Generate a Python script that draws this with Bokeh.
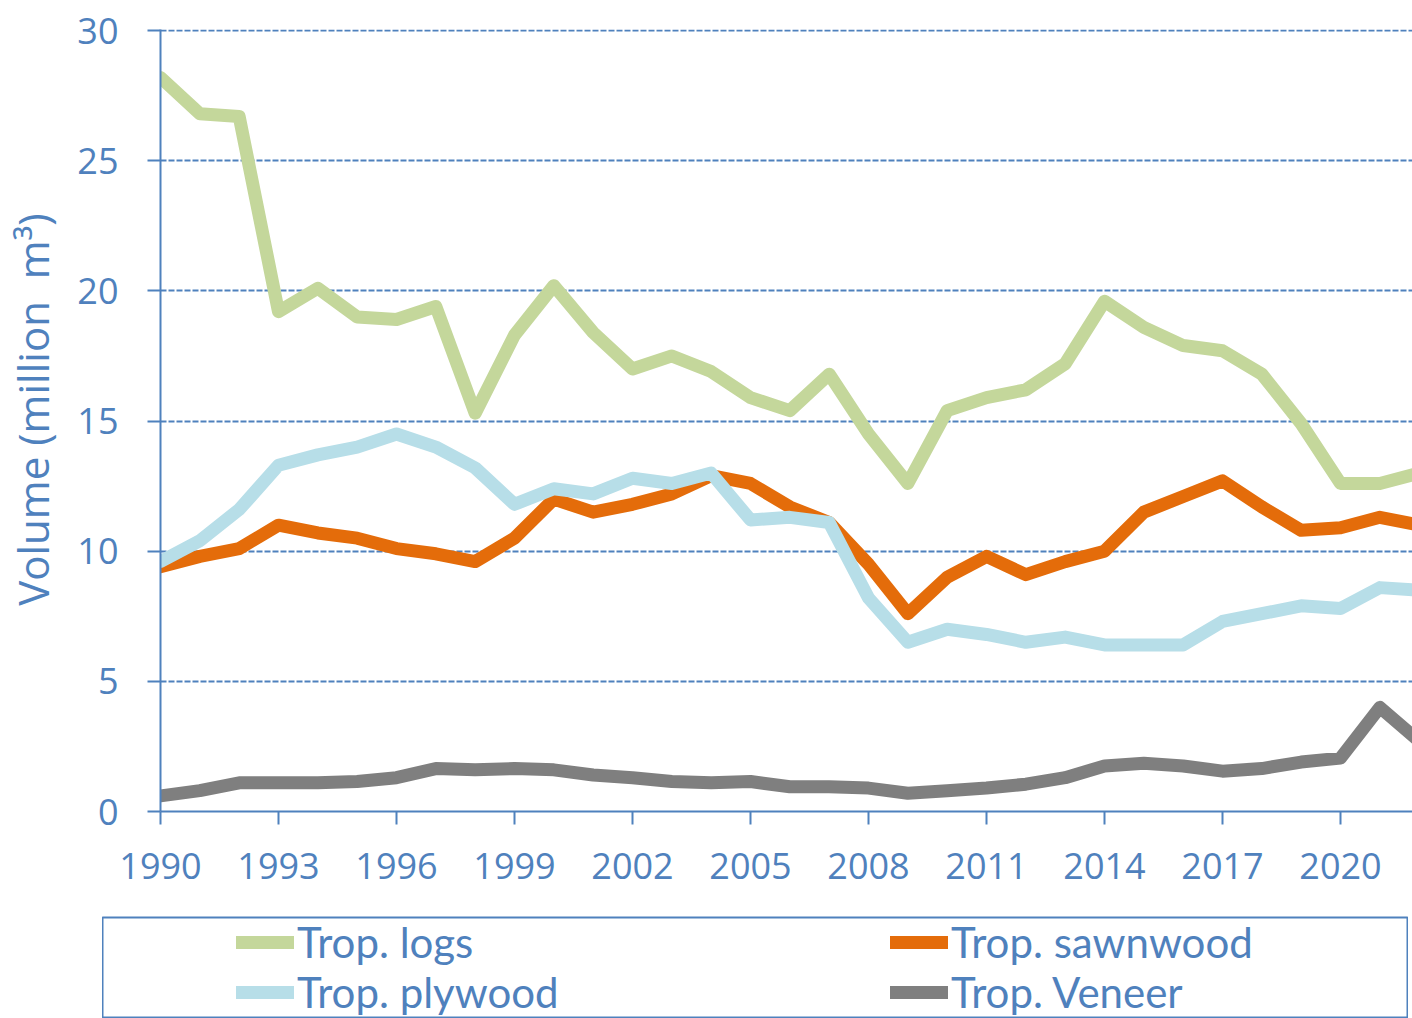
from bokeh.plotting import figure
from bokeh.models import Range1d, FixedTicker, Legend, LegendItem
from bokeh.embed import file_html
from bokeh.resources import INLINE

years = list(range(1990, 2023))
logs = [28.2, 26.8, 26.7, 19.2, 20.1, 19.0, 18.9, 19.4, 15.3, 18.3, 20.2, 18.4, 17.0,
        17.5, 16.9, 15.9, 15.4, 16.8, 14.5, 12.6, 15.4, 15.9, 16.2, 17.2, 19.6, 18.6,
        17.9, 17.7, 16.8, 14.9, 12.6, 12.6, 13.0]
sawnwood = [9.4, 9.8, 10.1, 11.0, 10.7, 10.5, 10.1, 9.9, 9.6, 10.5, 12.0, 11.5, 11.8,
            12.2, 12.9, 12.6, 11.7, 11.1, 9.5, 7.6, 9.0, 9.8, 9.1, 9.6, 10.0, 11.5,
            12.1, 12.7, 11.7, 10.8, 10.9, 11.3, 11.0]
plywood = [9.6, 10.4, 11.6, 13.3, 13.7, 14.0, 14.5, 14.0, 13.2, 11.8, 12.4, 12.2, 12.8,
           12.6, 13.0, 11.2, 11.3, 11.1, 8.2, 6.5, 7.0, 6.8, 6.5, 6.7, 6.4, 6.4,
           6.4, 7.3, 7.6, 7.9, 7.8, 8.6, 8.5]
veneer = [0.6, 0.8, 1.1, 1.1, 1.1, 1.15, 1.3, 1.65, 1.6, 1.65, 1.6, 1.4, 1.3,
          1.15, 1.1, 1.15, 0.95, 0.95, 0.9, 0.7, 0.8, 0.9, 1.05, 1.3, 1.75, 1.85,
          1.75, 1.55, 1.65, 1.9, 2.05, 4.0, 2.7]

series_names = ["Trop. logs", "Trop. sawnwood", "Trop. plywood", "Trop. Veneer"]
series_values = [logs, sawnwood, plywood, veneer]
series_colors = ["#C4D79B", "#E46C0A", "#B7DEE8", "#7F7F7F"]
x_ticks = list(range(1990, 2021, 3))
y_ticks = [0, 5, 10, 15, 20, 25, 30]
y_label = "\u00a0\u00a0Volume (million\u00a0 m\u00b3)"

BLUE = "#4F81BD"
FONT = "Open Sans"
LEG_FONT = "Lato"

p = figure(width=1412, height=905, x_range=Range1d(1990, 2021.83), y_range=Range1d(0, 30.04),
           output_backend="svg", toolbar_location=None,
           min_border_left=160, min_border_right=0, min_border_top=29, min_border_bottom=94)
p.outline_line_color = None
p.background_fill_color = "white"
p.border_fill_color = "white"

for vals, col in zip(series_values, series_colors):
    p.line(years, vals, line_color=col, line_width=13, line_join="round", line_cap="round")

p.xgrid.visible = False
p.ygrid.ticker = FixedTicker(ticks=y_ticks)
p.ygrid.grid_line_color = BLUE
p.ygrid.grid_line_width = 1.8
p.ygrid.grid_line_dash = "6 2"

for ax in (p.xaxis[0], p.yaxis[0]):
    ax.axis_line_color = BLUE
    ax.axis_line_width = 2
    ax.major_tick_line_color = BLUE
    ax.major_tick_line_width = 2
    ax.major_tick_out = 13
    ax.major_tick_in = 0
    ax.minor_tick_line_color = None
    ax.major_label_text_font = FONT
    ax.major_label_text_font_size = "36px"
    ax.major_label_text_color = BLUE

p.xaxis.ticker = FixedTicker(ticks=x_ticks)
p.yaxis.ticker = FixedTicker(ticks=y_ticks)
p.xaxis.major_label_standoff = 28
p.yaxis.major_label_standoff = 29
p.yaxis.axis_label = y_label
p.yaxis.axis_label_text_font = FONT
p.yaxis.axis_label_text_font_size = "42px"
p.yaxis.axis_label_text_font_style = "normal"
p.yaxis.axis_label_text_color = BLUE
p.yaxis.axis_label_standoff = 13

# legend box (separate root so that its frame is not aligned with the chart's)
lg = figure(width=1306, height=113, x_range=Range1d(1990, 2022), y_range=Range1d(-200, -199),
            output_backend="svg", toolbar_location=None, min_border=0, min_border_top=12,
            x_axis_location=None, y_axis_location=None, margin=(0, 0, 0, 102))
lg.grid.visible = False
lg.outline_line_color = BLUE
lg.outline_line_width = 2
lg.background_fill_color = "white"
lg.border_fill_color = "white"
rs = [lg.line(years, vals, line_color=col, line_width=13, line_cap="round")
      for vals, col in zip(series_values, series_colors)]


def make_legend(i, loc):
    return Legend(items=[LegendItem(label=series_names[i], renderers=[rs[i]])],
                  location=loc, orientation="vertical", padding=0, margin=0, spacing=0,
                  glyph_width=58, glyph_height=20, label_standoff=3,
                  border_line_color=None, background_fill_alpha=0,
                  label_text_font=LEG_FONT, label_text_font_size="42px",
                  label_text_color=BLUE)


lg.add_layout(make_legend(0, (134, 51)))
lg.add_layout(make_legend(2, (134, 1)))
lg.add_layout(make_legend(1, (788, 51)))
lg.add_layout(make_legend(3, (788, 1)))

open("out.html", "w").write(file_html([p, lg], INLINE))
